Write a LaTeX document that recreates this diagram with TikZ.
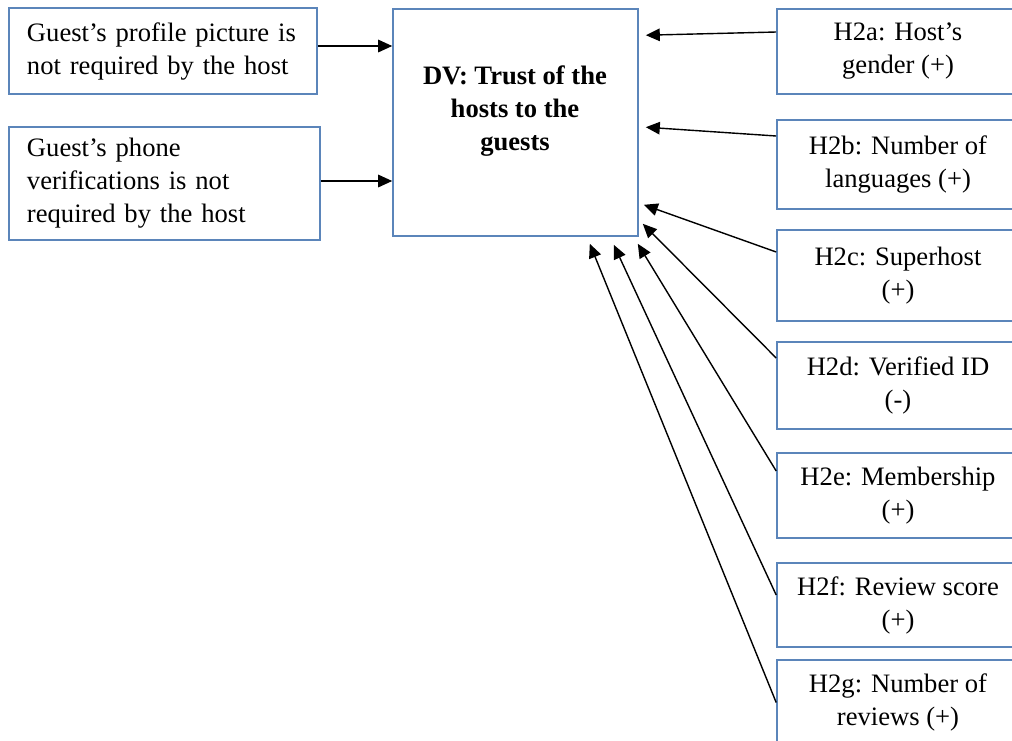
\documentclass[tikz,border=0pt]{standalone}
\usepackage{fontspec}
\setmainfont{Liberation Serif}
\usetikzlibrary{arrows.meta,calc}
\definecolor{boxblue}{RGB}{91,133,186}
\begin{document}
\begin{tikzpicture}[x=1pt,y=-1pt,
  txt/.style={font=\fontsize{26.6}{33}\selectfont},
  box/.style={txt,draw=boxblue,line width=1.6pt,inner sep=0pt},
  lbox/.style={box,align=left,inner xsep=18pt,text width=#1},
  rbox/.style={box,align=center,minimum width=242pt,minimum height=#1},
  arr/.style={line width=1.4pt,-{Triangle[length=14pt,width=12.5pt]}}]
\useasboundingbox (0,0) rectangle (1012,740);
\fill[white] (0,0) rectangle (1012,740);
% left boxes
\node[lbox=272pt,minimum height=86pt] (g1) at (163,51) {Guest’s profile picture is\\not required by the host};
\node[lbox=275pt,minimum height=113pt] (g2) at (164.5,183.5) {Guest’s phone\\verifications is not\\required by the host};
% DV box
\node[box,minimum width=245pt,minimum height=227pt] (dv) at (515.5,122.5) {};
\node[txt,font=\fontsize{26.6}{33}\selectfont\bfseries,align=center] (dvt) at (515,111) {DV: Trust of the\\hosts to the\\guests};
% right boxes
\node[rbox=85pt] (a) at (898,51.5) {H2a: Host’s\\gender (+)};
\node[rbox=89pt] (b) at (898,164.5) {H2b: Number of\\languages (+)};
\node[rbox=91pt] (c) at (898,275.5) {H2c: Superhost\\(+)};
\node[rbox=87pt] (d) at (898,385.5) {H2d: Verified ID\\(-)};
\node[rbox=85pt] (e) at (898,495.5) {H2e: Membership\\(+)};
\node[rbox=84pt] (f) at (898,605) {H2f: Review score\\(+)};
\node[rbox=85pt] (g) at (898,702.5) {H2g: Number of\\reviews (+)};
% arrows
\draw[arr] ([yshift=5pt]g1.east) -- ([yshift=5pt]g1.east -| dv.west);
\draw[arr] ([yshift=2.5pt]g2.east) -- ([yshift=2.5pt]g2.east -| dv.west);
\draw[arr] ([yshift=19.5pt]a.west) -- ($(dv.north east)+(7,27)$);
\draw[arr] ([yshift=28.5pt]b.west) -- ($(dv.north east)+(7,119)$);
\draw[arr] ([yshift=23.5pt]c.west) -- ($(dv.south east)+(5,-32)$);
\draw[arr] ([yshift=27.5pt]d.west) -- ($(dv.south east)+(4,-13)$);
\draw[arr] ([yshift=24.5pt]e.west) -- ($(dv.south east)+(-1,7)$);
\draw[arr] ([yshift=10pt]f.west) -- ($(dv.south east)+(-25,8)$);
\draw[arr] (g.west) -- ($(dv.south east)+(-49,7)$);
\end{tikzpicture}
\end{document}
